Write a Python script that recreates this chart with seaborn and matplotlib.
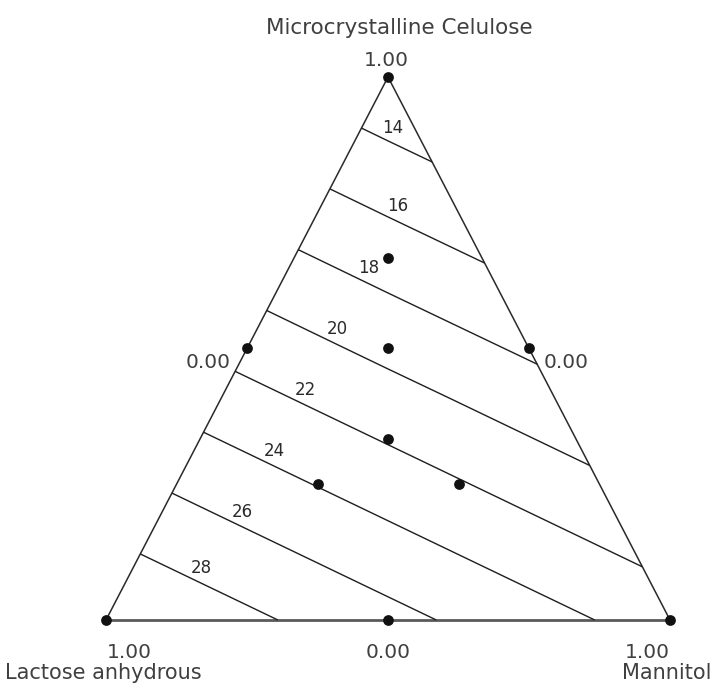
import numpy as np
import pandas as pd
import matplotlib
matplotlib.use("Agg")
import matplotlib.pyplot as plt
import seaborn as sns

# mixture design points (component fractions) and the response
lactose = [1, 0, 0, 0.5, 0.5, 0, 1/3, 1/6, 0.25, 0.5, 0.25]
mannitol = [0, 1, 0, 0.5, 0, 0.5, 1/3, 1/6, 0.25, 0.25, 0.5]
mcc = [0, 0, 1, 0, 0.5, 0.5, 1/3, 2/3, 0.5, 0.25, 0.25]
response = [30.17, 23.05, 12.32, 26.61, 21.25, 17.69, 21.85, 17.08, 19.46, 23.93, 22.15]

contour_levels = [14, 16, 18, 20, 22, 24, 26, 28]
component_names = ["Lactose anhydrous", "Mannitol", "Microcrystalline Celulose"]

W, H = 715, 684
TRI_H = 543 / 564  # the triangle is drawn a bit taller than equilateral

sns.set_style("white")
plt.rcParams["font.family"] = ["DejaVu Sans"]

df = pd.DataFrame({"L": lactose, "M": mannitol, "C": mcc, "resp": response})
df["x"] = df["M"] + 0.5 * df["C"]
df["y"] = df["C"] * TRI_H

fig = plt.figure(figsize=(W / 100, H / 100), dpi=100)
fig.patch.set_facecolor("white")
ax = fig.add_axes([0, 0, 1, 1])
ax.set_xlim(-106 / 564, (W - 106) / 564)
ax.set_ylim(-64 / 564, (H - 64) / 564)
ax.set_aspect("equal")
ax.axis("off")

# triangle frame from the three pure components
corners = pd.DataFrame({"M": [0, 1, 0], "C": [0, 0, 1]})
cx = corners["M"] + 0.5 * corners["C"]
cy = corners["C"] * TRI_H
ax.plot([cx[0], cx[2], cx[1]], [cy[0], cy[2], cy[1]], color="#2a2a2a", lw=1.1, zorder=2)
ax.plot([cx[0], cx[1]], [cy[0], cy[1]], color="#5a5a5a", lw=2.0, zorder=2)

# contours of the response surface
cs = ax.tricontour(df["x"], df["y"], df["resp"], levels=contour_levels,
                   colors="#1e1e1e", linewidths=1.0, zorder=3)

for lev, path in zip(cs.levels, cs.get_paths()):
    v = path.vertices
    if len(v) < 2:
        continue
    if v[0, 0] > v[-1, 0]:
        v = v[::-1]
    seg = np.hypot(np.diff(v[:, 0]), np.diff(v[:, 1]))
    cum = np.concatenate([[0], np.cumsum(seg)])
    d = min(78 / 564, 0.44 * cum[-1])
    px = np.interp(d, cum, v[:, 0])
    py = np.interp(d, cum, v[:, 1])
    ax.annotate(f"{lev:.0f}", (px, py), xytext=(0, 11), textcoords="offset points",
                ha="center", va="center", fontsize=12, color="#2a2a2a")

# design points
sns.scatterplot(data=df, x="x", y="y", color="#111111", s=60, marker="o",
                edgecolor="#111111", linewidth=0, zorder=4, ax=ax, legend=False)


def ftext(x, y, s, **kw):
    kw.setdefault("fontsize", 14.5)
    kw.setdefault("color", "#404040")
    fig.text(x / W, 1 - y / H, s, **kw)


ftext(399, 28, component_names[2], ha="center", va="center", fontsize=15.5)
ftext(386, 60, "1.00", ha="center", va="center")
ftext(231, 363, "0.00", ha="right", va="center")
ftext(544, 363, "0.00", ha="left", va="center")
ftext(107, 652, "1.00", ha="left", va="center")
ftext(388, 652, "0.00", ha="center", va="center")
ftext(670, 652, "1.00", ha="right", va="center")
ftext(5, 683, component_names[0], ha="left", va="bottom", fontsize=15)
ftext(712, 683, component_names[1], ha="right", va="bottom", fontsize=15)

fig.savefig("out.png", dpi=100, facecolor="white")
